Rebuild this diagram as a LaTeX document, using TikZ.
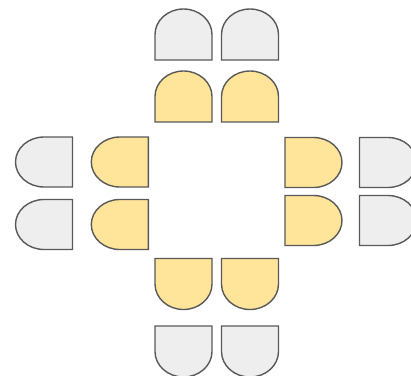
\documentclass[tikz,border=0pt]{standalone}
\usepackage{xcolor}
\usepackage{tikz}

\definecolor{seatGray}{HTML}{EEEEEE}
\definecolor{seatYellow}{HTML}{FFE599}
\definecolor{seatLine}{HTML}{595959}

\tikzset{
  pics/seat/.style 2 args={code={
    \draw[pic actions] (0,-#2) -- (#1,-#2)
      arc[start angle=-90,end angle=90,x radius=#1,y radius=#2] -- (0,#2) -- cycle;
  }},
  graySeat/.style={fill=seatGray, draw=seatLine, line width=1.4pt},
  yellowSeat/.style={fill=seatYellow, draw=seatLine, line width=1.4pt},
}

\begin{document}
\begin{tikzpicture}[x=1pt,y=-1pt]
  \useasboundingbox (0,0) rectangle (411,375);
  % top
  \pic[graySeat, rotate=90] at (183.5,60) {seat={25.5}{28.5}};
  \pic[graySeat, rotate=90] at (250,60) {seat={25.5}{28.5}};
  \pic[yellowSeat, rotate=90] at (183.5,122) {seat={25.5}{28.5}};
  \pic[yellowSeat, rotate=90] at (250,122) {seat={25.5}{28.5}};
  % left
  \pic[graySeat, rotate=180] at (72.5,162) {seat={28.5}{25}};
  \pic[graySeat, rotate=180] at (72.5,224.5) {seat={28.5}{25}};
  \pic[yellowSeat, rotate=180] at (148.3,162) {seat={28.5}{25}};
  \pic[yellowSeat, rotate=180] at (148.3,224.5) {seat={28.5}{25}};
  % right
  \pic[yellowSeat] at (285,162.5) {seat={28.5}{25}};
  \pic[yellowSeat] at (285,220.5) {seat={28.5}{25}};
  \pic[graySeat] at (359.5,162.5) {seat={28.5}{25}};
  \pic[graySeat] at (359.5,220.5) {seat={28.5}{25}};
  % bottom
  \pic[yellowSeat, rotate=-90] at (183.5,258.5) {seat={25.5}{28.5}};
  \pic[yellowSeat, rotate=-90] at (250,258.5) {seat={25.5}{28.5}};
  \pic[graySeat, rotate=-90] at (183.5,326) {seat={25.5}{28.5}};
  \pic[graySeat, rotate=-90] at (250,326) {seat={25.5}{28.5}};
\end{tikzpicture}
\end{document}
